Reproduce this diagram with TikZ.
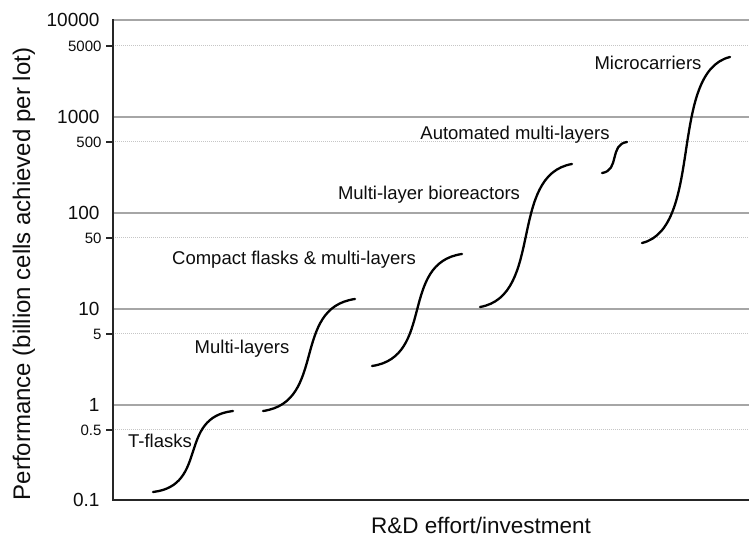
\documentclass[tikz,border=0pt]{standalone}
\usepackage{fontspec}
\setmainfont{Liberation Sans}

\begin{document}
\begin{tikzpicture}[x=1pt,y=1pt,
  axa/.style={gray!30!black,line width=2pt},
  grila/.style={gray!70,line width=1.5pt},
  punctat/.style={gray!45,line width=1pt,dash pattern=on 1pt off 1pt},
  curba/.style={black,line width=2.3pt,line cap=round},
  decada/.style={anchor=east,text=gray!10!black,font=\fontsize{19}{20}\selectfont},
  jumatate/.style={anchor=east,text=gray!10!black,font=\fontsize{15}{17}\selectfont},
  eticheta/.style={text=gray!10!black,font=\fontsize{18.5}{22}\selectfont}]
  \useasboundingbox (0,0) rectangle (749,538);

  % grilă
  \foreach \yy in {518,421,325,229,133}
    \draw[grila] (113,\yy) -- (749,\yy);
  \foreach \yy in {492,396,300,204,108}
    \draw[punctat] (113,\yy) -- (749,\yy);

  % axele
  \draw[axa] (113,519) -- (113,38) -- (749,38);
  \foreach \yy in {492,396,300,204,108}
    \draw[axa,line width=1.2pt] (106,\yy) -- (113,\yy);

  % valori
  \foreach \val/\yy [count=\i] in {10000/518,1000/421,100/325,10/229,1/133,0.1/38}
    \node[decada] (dec\i) at (103,\yy) {\val};
  \foreach \val/\yy [count=\i] in {5000/492,500/396,50/300,5/204,0.5/108}
    \node[jumatate] (jum\i) at (105,\yy) {\val};

  % titluri
  \node[rotate=90,text=gray!10!black,font=\fontsize{24}{26}\selectfont] (ytitlu) at (24,264)
    {Performance (billion cells achieved per lot)};
  \node[text=gray!10!black,font=\fontsize{22.5}{24}\selectfont] (xtitlu) at (481,13)
    {R\&D effort/investment};

  % curbe
  \draw[curba] (153,46) .. controls (209,52.5) and (177,120.5) .. (233,127);
  \draw[curba] (263,127) .. controls (327,136) and (291,230) .. (355,239);
  \draw[curba] (372,172) .. controls (435,181) and (399,275) .. (462,284);
  \draw[curba] (480,231) .. controls (544,242) and (508,363) .. (572,374);
  \draw[curba] (602,365) .. controls (620,367.5) and (609,393.5) .. (627,396);
  \draw[curba] (642,295) .. controls (704,310) and (668,466) .. (730,481);

  % etichete
  \node[eticheta] (tflask) at (160,97) {T-flasks};
  \node[eticheta] (multi) at (242,189) {Multi-layers};
  \node[eticheta] (compact) at (294,278) {Compact flasks \& multi-layers};
  \node[eticheta] (bioreact) at (429,343) {Multi-layer bioreactors};
  \node[eticheta] (automat) at (515,403) {Automated multi-layers};
  \node[eticheta] (micro) at (648,475) {Microcarriers};
\end{tikzpicture}
\end{document}
